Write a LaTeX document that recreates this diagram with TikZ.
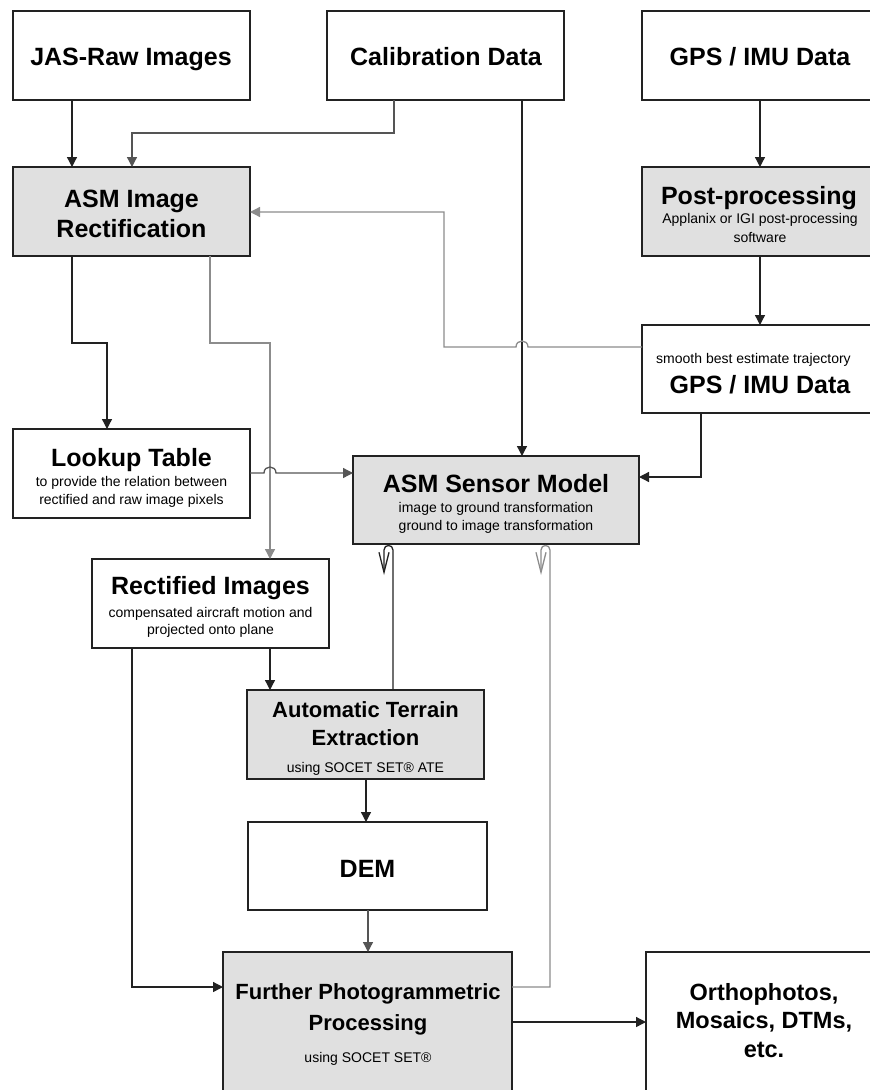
\documentclass[tikz,border=0pt]{standalone}
\usepackage{fontspec}
\setmainfont{Liberation Sans}
\usetikzlibrary{arrows.meta}
\definecolor{boxgray}{HTML}{E0E0E0}
\definecolor{linedark}{HTML}{222222}
\definecolor{linemid}{HTML}{555555}
\definecolor{linegray}{HTML}{8C8C8C}
\tikzset{
  box/.style={draw=linedark, line width=1.3pt, fill=white, inner sep=0pt, outer sep=0pt},
  gbox/.style={box, fill=boxgray},
  ttl/.style={font=\fontsize{25}{30}\selectfont\bfseries, inner sep=0pt, anchor=base},
  ttlm/.style={font=\fontsize{22}{26}\selectfont\bfseries, inner sep=0pt, anchor=base},
  ttlo/.style={font=\fontsize{23.5}{28}\selectfont\bfseries, inner sep=0pt, anchor=base},
  sub/.style={font=\fontsize{14}{17}\selectfont, inner sep=0pt, anchor=base},
  conn/.style={draw=linedark, line width=1.3pt, -{Triangle[length=10pt,width=10pt]}},
  mconn/.style={conn, draw=linemid},
  gconn/.style={conn, draw=linegray},
  hook/.style={draw=linedark, line width=1.3pt, -{Straight Barb[length=20pt,width=10pt]}}
}
\begin{document}
\begin{tikzpicture}[x=1pt,y=-1pt]
\useasboundingbox (0,0) rectangle (870,1090);
\clip (0,0) rectangle (870,1090);
\fill[white] (0,0) rectangle (870,1090);

% boxes
\node[box,  minimum width=237pt, minimum height=89pt]  (jas)  at (131.5,55.5) {};
\node[box,  minimum width=237pt, minimum height=89pt]  (cal)  at (445.5,55.5) {};
\node[box,  minimum width=236pt, minimum height=89pt]  (gps)  at (760,55.5) {};
\node[gbox, minimum width=237pt, minimum height=89pt]  (asmr) at (131.5,211.5) {};
\node[gbox, minimum width=236pt, minimum height=89pt]  (post) at (760,211.5) {};
\node[box,  minimum width=236pt, minimum height=88pt]  (sgps) at (760,369) {};
\node[box,  minimum width=237pt, minimum height=89pt]  (look) at (131.5,473.5) {};
\node[gbox, minimum width=286pt, minimum height=88pt]  (sens) at (496,500) {};
\node[box,  minimum width=237pt, minimum height=89pt]  (rect) at (210.5,603.5) {};
\node[gbox, minimum width=237pt, minimum height=89pt]  (ate)  at (365.5,734.5) {};
\node[box,  minimum width=239pt, minimum height=88pt]  (dem)  at (367.5,866) {};
\node[gbox, minimum width=289pt, minimum height=148pt] (furt) at (367.5,1026) {};
\node[box,  minimum width=236pt, minimum height=148pt] (orth) at (764,1026) {};

% texts
\node[ttl] (jasT) at (131,65) {JAS-Raw Images};
\node[ttl] (calT) at (446,65) {Calibration Data};
\node[ttl] (gpsT) at (760,65) {GPS / IMU Data};
\node[ttl] (asmrT1) at (131.5,207) {ASM Image};
\node[ttl] (asmrT2) at (131.5,237) {Rectification};
\node[ttl] (postT) at (759,204) {Post-processing};
\node[sub] (postS1) at (760,223) {Applanix or IGI post-processing};
\node[sub] (postS2) at (760,242) {software};
\node[sub] (sgpsS) at (753.5,363) {smooth best estimate trajectory};
\node[ttl] (sgpsT) at (760,393) {GPS / IMU Data};
\node[ttl] (lookT) at (131.5,466) {Lookup Table};
\node[sub] (lookS1) at (131.5,486) {to provide the relation between};
\node[sub] (lookS2) at (131.5,504) {rectified and raw image pixels};
\node[ttl] (sensT) at (496,492) {ASM Sensor Model};
\node[sub] (sensS1) at (496,512) {image to ground transformation};
\node[sub] (sensS2) at (496,530) {ground to image transformation};
\node[ttl] (rectT) at (210.5,594) {Rectified Images};
\node[sub] (rectS1) at (210.5,617) {compensated aircraft motion and};
\node[sub] (rectS2) at (210.5,634) {projected onto plane};
\node[ttlm] (ateT1) at (365.5,717) {Automatic Terrain};
\node[ttlm] (ateT2) at (365.5,745) {Extraction};
\node[sub] (ateS) at (365.5,772) {using SOCET SET® ATE};
\node[ttl] (demT) at (367.5,877) {DEM};
\node[ttlm] (furtT1) at (368,999) {Further Photogrammetric};
\node[ttlm] (furtT2) at (368,1030) {Processing};
\node[sub] (furtS) at (368,1062) {using SOCET SET®};
\node[ttlo] (orthT1) at (764,1000) {Orthophotos,};
\node[ttlo] (orthT2) at (764,1028.5) {Mosaics, DTMs,};
\node[ttlo] (orthT3) at (764,1057) {etc.};

% connectors
\draw[conn] (72,0 |- jas.south) -- (72,0 |- asmr.north);
\draw[mconn] (394,0 |- cal.south) -- (394,133) -- (132,133) -- (132,0 |- asmr.north);
\draw[conn] (522,0 |- cal.south) -- (522,0 |- sens.north);
\draw[conn] (gps.south) -- (post.north);
\draw[conn] (post.south) -- (sgps.north);
\draw[gconn] (sgps.west |- 0,347) -- (528,347) .. controls (528,339) and (516,339) .. (516,347) -- (444,347) -- (444,212) -- (asmr.east |- 0,212);
\draw[conn] (701,0 |- sgps.south) -- (701,477) -- (sens.east |- 0,477);
\draw[conn] (72,0 |- asmr.south) -- (72,343) -- (107,343) -- (107,0 |- look.north);
\draw[gconn] (210,0 |- asmr.south) -- (210,343) -- (270,343) -- (270,0 |- rect.north);
\draw[mconn] (look.east |- 0,473) -- (264,473) .. controls (264,465) and (276,465) .. (276,473) -- (sens.west |- 0,473);
\draw[conn] (270,0 |- rect.south) -- (270,0 |- ate.north);
\draw[conn] (132,0 |- rect.south) -- (132,987) -- (furt.west |- 0,987);
\draw[hook] (393,0 |- ate.north) -- (393,550) .. controls (393,544) and (384,544) .. (384,550) -- (384,575);
\draw[hook, draw=linegray] (furt.east |- 0,987) -- (550,987) -- (550,550) .. controls (550,544) and (541,544) .. (541,550) -- (541,575);
\draw[conn] (366,0 |- ate.south) -- (366,0 |- dem.north);
\draw[mconn] (368,0 |- dem.south) -- (368,0 |- furt.north);
\draw[conn] (furt.east |- 0,1022) -- (orth.west |- 0,1022);
\end{tikzpicture}
\end{document}
